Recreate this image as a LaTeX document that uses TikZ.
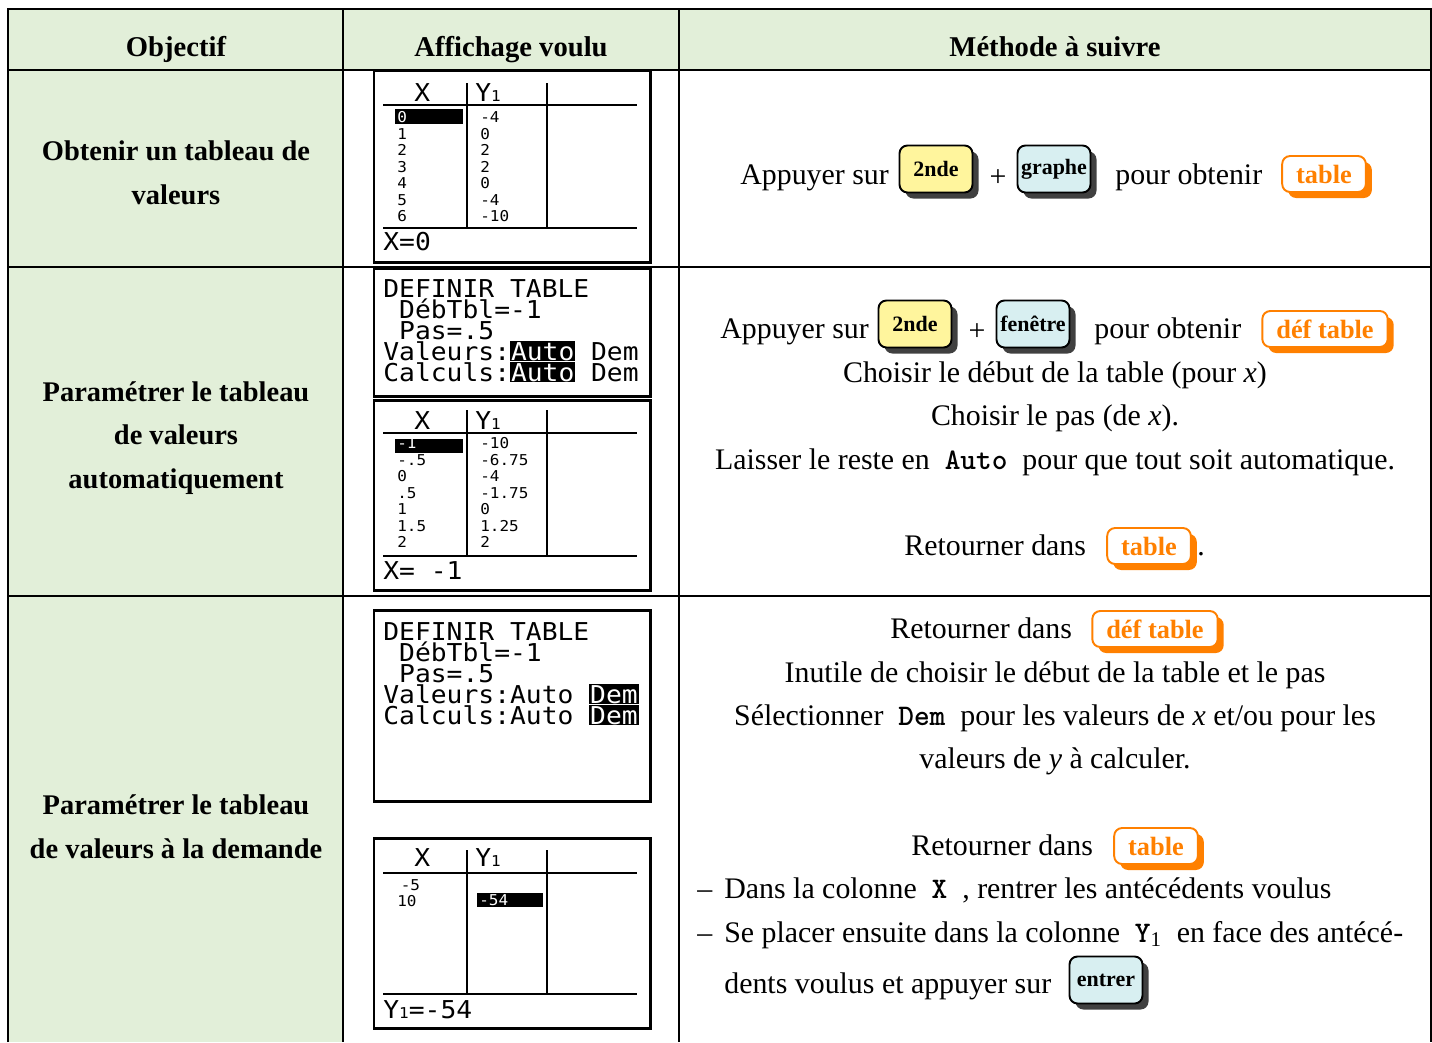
\documentclass[tikz,border=0pt]{standalone}
\usepackage{fontspec}
\setmainfont{Liberation Serif}
\newfontfamily\calcfont[FakeStretch=1.07]{DejaVu Sans Mono}
\usetikzlibrary{shadows}

\definecolor{fondvert}{HTML}{E2EFD9}
\definecolor{touchejaune}{HTML}{FFF59D}
\definecolor{touchebleue}{HTML}{D8EFF1}
\definecolor{orangemenu}{HTML}{FF8000}

% texte en video inverse sur l'ecran
\newcommand{\ecraninv}[1]{{\fboxsep=0.5pt\colorbox{black}{\textcolor{white}{#1}}}}
\newcommand{\petitun}{{\fontsize{8.5}{8.5}\selectfont 1}}

\begin{document}
\begin{tikzpicture}[
    x=0.02cm, y=-0.02cm,
    trait/.style={line width=0.9pt},
    entete/.style={font=\bfseries\fontsize{16.3}{19}\selectfont, inner sep=0pt, anchor=mid, yshift=-0.14cm},
    titre/.style={font=\bfseries\fontsize{16.2}{24.8}\selectfont, align=center, inner sep=0pt},
    txt/.style={font=\fontsize{17}{20}\selectfont, inner sep=0pt, anchor=mid west, yshift=-0.12cm},
    ligne/.style={font=\fontsize{17}{20}\selectfont, inner sep=0pt, anchor=mid, yshift=-0.12cm},
    touche/.style={draw, line width=1.1pt, rounded corners=4.5pt, minimum width=1.46cm, minimum height=0.94cm,
        inner xsep=1.5pt, font=\bfseries\fontsize{12.5}{13}\selectfont,
        drop shadow={shadow xshift=0.12cm, shadow yshift=-0.12cm, fill=black!75, opacity=1}},
    menu/.style={draw=orangemenu, text=orangemenu, fill=white, line width=1.1pt, rounded corners=4.5pt,
        minimum height=0.72cm, inner xsep=0.28cm, font=\bfseries\fontsize{15}{15}\selectfont,
        drop shadow={shadow xshift=0.12cm, shadow yshift=-0.12cm, fill=orangemenu, opacity=1}},
    ecran/.style={draw, line width=1.7pt},
    grille/.style={line width=1.2pt},
    calc/.style={font=\calcfont\fontsize{14}{11.9}\selectfont, inner sep=0pt, anchor=base west, align=left},
    petit/.style={font=\calcfont\fontsize{8.5}{9.36}\selectfont, inner sep=0pt, anchor=base west, align=left}
]
\useasboundingbox (0,0) rectangle (1432,1042);

% Fonds
\fill[fondvert] (8,9) rectangle (1431,70);
\fill[fondvert] (8,70) rectangle (343,1042);

% Grille du tableau
\draw[trait] (8,1042) -- (8,9) -- (1431,9) -- (1431,1042);
\foreach \y in {70,267,596} \draw[trait] (8,\y) -- (1431,\y);
\foreach \x in {343,679} \draw[trait] (\x,9) -- (\x,1042);

% En-tetes
\node[entete] (hobj) at (176,45) {Objectif};
\node[entete] (haff) at (511,45) {Affichage voulu};
\node[entete] (hmet) at (1055,45) {Méthode à suivre};

% Objectifs
\node[titre] (obj1) at (176,173) {Obtenir un tableau de\\valeurs};
\node[titre] (obj2) at (176,438) {Paramétrer le tableau\\de valeurs\\automatiquement};
\node[titre] (obj3) at (176,827) {Paramétrer le tableau\\de valeurs à la demande};

% Ecran 1 : table
\draw[ecran] (374,71) rectangle (650,262);
\draw[grille] (383,105) -- (637,105) (383,228) -- (637,228) (467,83) -- (467,228) (547,83) -- (547,228);
\node[calc] (e1x) at (414,101) {X};
\node[calc] (e1y) at (475,101) {Y\petitun};
\fill (395,109) rectangle (463,124);
\node[petit] (e1vx) at (397,221.5) {\textcolor{white}{0}\\1\\2\\3\\4\\5\\6};
\node[petit] (e1vy) at (480,221.5) {-4\\0\\2\\2\\0\\-4\\-10};
\node[calc] (e1bas) at (383,250) {X=0};

% Ecran 2 : definir table (Auto)
\draw[ecran] (374,268) rectangle (650,396);
\node[calc] (e2def) at (383,381) {DEFINIR TABLE\\
  \ DébTbl=-1\\
  \ Pas=.5\\
  Valeurs:\ecraninv{Auto} Dem\\
  Calculs:\ecraninv{Auto} Dem};

% Ecran 3 : table de -1 a 2
\draw[ecran] (374,400) rectangle (650,590);
\draw[grille] (383,433) -- (637,433) (383,556) -- (637,556) (467,410) -- (467,556) (547,410) -- (547,556);
\node[calc] (e3x) at (414,429) {X};
\node[calc] (e3y) at (475,429) {Y\petitun};
\fill (395,439) rectangle (463,453);
\node[petit] (e3vx) at (397,547.5) {\textcolor{white}{-1}\\-.5\\0\\.5\\1\\1.5\\2};
\node[petit] (e3vy) at (480,547.5) {-10\\-6.75\\-4\\-1.75\\0\\1.25\\2};
\node[calc] (e3bas) at (383,579) {X= -1};

% Ecran 4 : definir table (Dem)
\draw[ecran] (374,610) rectangle (650,801);
\node[calc] (e4def) at (383,724) {DEFINIR TABLE\\
  \ DébTbl=-1\\
  \ Pas=.5\\
  Valeurs:Auto \ecraninv{Dem}\\
  Calculs:Auto \ecraninv{Dem}};

% Ecran 5 : table a la demande
\draw[ecran] (374,838) rectangle (650,1028);
\draw[grille] (383,873) -- (637,873) (383,994) -- (637,994) (467,850) -- (467,994) (547,850) -- (547,994);
\node[calc] (e5x) at (414,866) {X};
\node[calc] (e5y) at (475,866) {Y\petitun};
\node[petit] (e5vx) at (397,906.5) {\hspace*{2pt}-5\\10};
\fill (477,893) rectangle (543,907);
\node[petit, text=white] (e5h) at (479,905) {-54};
\node[calc] (e5bas) at (383,1018) {Y\petitun=-54};

% Methode : ligne 1
\node[txt] (m1a) at (740,174) {Appuyer sur};
\node[touche, fill=touchejaune] (m1k1) at (936,169) {2nde};
\node[ligne] (m1p) at (998,176) {+};
\node[touche, fill=touchebleue] (m1k2) at (1054,169) {graphe};
\node[txt] (m1b) at (1115,174) {pour obtenir};
\node[menu] (m1m) at (1324,174) {table};

% Methode : ligne 2
\node[txt] (m2a) at (720,328) {Appuyer sur};
\node[touche, fill=touchejaune] (m2k1) at (915,324) {2nde};
\node[ligne] (m2p) at (977,330) {+};
\node[touche, fill=touchebleue] (m2k2) at (1033,324) {fenêtre};
\node[txt] (m2b) at (1094,328) {pour obtenir};
\node[menu] (m2m) at (1325,329) {déf table};
\node[ligne] (m2c) at (1055,372) {Choisir le début de la table (pour \textit{x})};
\node[ligne] (m2d) at (1055,415) {Choisir le pas (de \textit{x}).};
\node[ligne] (m2e) at (1055,459) {Laisser le reste en \ \texttt{\bfseries Auto}\ \ pour que tout soit automatique.};
\node[txt] (m2f) at (904,545) {Retourner dans};
\node[menu] (m2g) at (1149,546) {table};
\node[txt] (m2h) at (1197,545) {.};

% Methode : ligne 3
\node[txt] (m3a) at (890,628) {Retourner dans};
\node[menu] (m3m) at (1155,629) {déf table};
\node[ligne] (m3b) at (1055,672) {Inutile de choisir le début de la table et le pas};
\node[ligne] (m3c) at (1055,715) {Sélectionner \ \texttt{\bfseries Dem}\ \ pour les valeurs de \textit{x} et/ou pour les};
\node[ligne] (m3d) at (1055,758) {valeurs de \textit{y} à calculer.};
\node[txt] (m3e) at (911,845) {Retourner dans};
\node[menu] (m3f) at (1156,846) {table};
\node[txt] (m3t1) at (697,888) {–};
\node[txt] (m3g) at (724,888) {Dans la colonne \ \texttt{\bfseries X}\ \ , rentrer les antécédents voulus};
\node[txt] (m3t2) at (697,932) {–};
\node[txt] (m3h) at (724,932) {Se placer ensuite dans la colonne \ \texttt{\bfseries Y}\textsubscript{1}\ \ en face des antécé-};
\node[txt] (m3i) at (724,983) {dents voulus et appuyer sur};
\node[touche, fill=touchebleue] (m3k) at (1106,980) {entrer};

\end{tikzpicture}
\end{document}
